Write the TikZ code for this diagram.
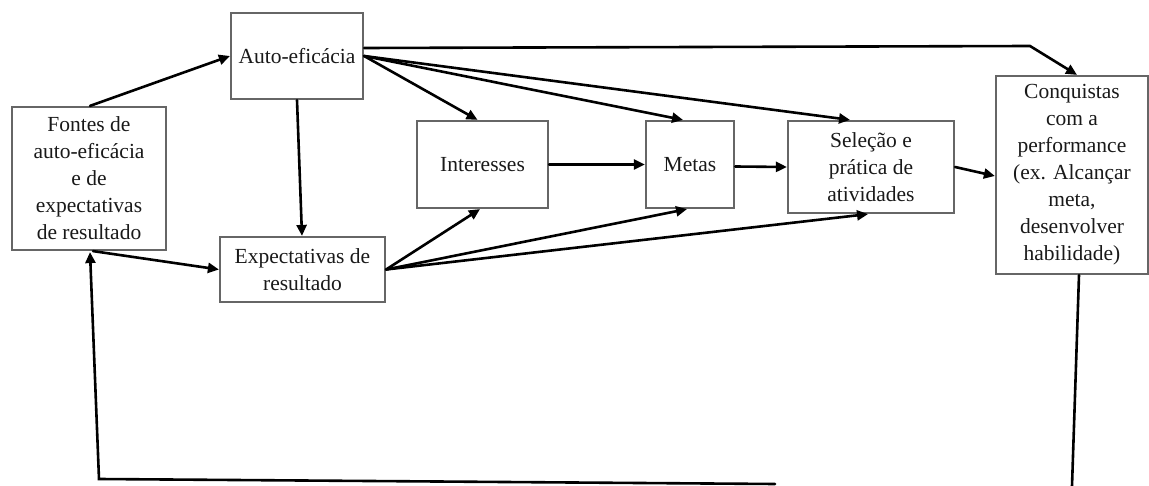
\documentclass[tikz,border=0pt]{standalone}
\usepackage{fontspec}
\setmainfont{Liberation Serif}
\usetikzlibrary{arrows.meta,calc}
\begin{document}
\begin{tikzpicture}[x=1pt,y=-1pt,
  box/.style={draw=black!60,line width=2.2pt,inner sep=0pt,align=center,
    font=\fontsize{21.5}{27}\selectfont,text=black!90},
  conn/.style={draw=black,line width=2.6pt,line cap=round},
  arr/.style={conn,-{Triangle[length=11pt,width=10pt]}}]
\useasboundingbox (0,0) rectangle (1149,486);
\node[box,minimum width=154pt,minimum height=143pt] (fontes) at (89,178.5)
  {Fontes de\\auto-eficácia\\e de\\expectativas\\de resultado};
\node[box,minimum width=132pt,minimum height=86pt] (auto) at (297,56) {Auto-eficácia};
\node[box,minimum width=165pt,minimum height=65pt] (expect) at (302.5,269.5)
  {Expectativas de\\resultado};
\node[box,minimum width=131pt,minimum height=87pt] (inter) at (482.5,164.5) {Interesses};
\node[box,minimum width=88pt,minimum height=87pt] (metas) at (690,164.5) {Metas};
\node[box,minimum width=166pt,minimum height=92pt] (selec) at (871,167)
  {Seleção e\\prática de\\atividades};
\node[box,minimum width=152pt,minimum height=198pt] (conq) at (1072,175)
  {Conquistas\\com a\\performance\\(ex. Alcançar\\meta,\\desenvolver\\habilidade)};
% coordinates
\coordinate (topbend) at (1030,46);
\coordinate (fbR) at (775,484);
\coordinate (fbL) at (99,479);
\coordinate (downEnd) at (1072,486);
% arrows
\draw[arr] ([xshift=1pt]fontes.north) -- (auto.west);
\draw[arr] ([xshift=4pt]fontes.south) -- (expect.west);
\draw[arr] (auto.south) -- ([xshift=-0.5pt]expect.north);
\draw[arr] (auto.east) -- ([xshift=-5pt]inter.north);
\draw[arr] (auto.east) -- ([xshift=-7pt]metas.north);
\draw[arr] (auto.east) -- ([xshift=-21pt]selec.north);
\draw[arr] ([yshift=8pt]auto.east) -- (topbend) -- ([xshift=5pt]conq.north);
\draw[arr] (inter.east) -- (metas.west);
\draw[arr] ([yshift=-2pt]metas.east) -- (selec.west);
\draw[arr] (selec.east) -- ([yshift=-1pt]conq.west);
\draw[arr] (expect.east) -- ([xshift=-2.5pt]inter.south);
\draw[arr] (expect.east) -- ([xshift=-3pt]metas.south);
\draw[arr] (expect.east) -- ([xshift=-3pt]selec.south);
\draw[conn] ([xshift=7pt]conq.south) -- (downEnd);
\draw[arr] (fbR) -- (fbL) -- ([xshift=1pt,yshift=-1pt]fontes.south);
\end{tikzpicture}
\end{document}
